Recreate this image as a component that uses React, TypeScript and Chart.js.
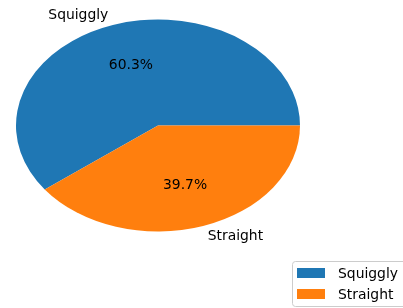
import React, { useEffect, useRef } from "react";
import { Chart, registerables } from "chart.js";

Chart.register(...registerables);

const categories = ["Squiggly", "Straight"];
const values = [60.3, 39.7];
const colors = ["#1f77b4", "#ff7f0e"];

const W = 403;
const H = 308;
const CX = 158;
const CY = 125.5;
const RY = 106;
const RX = 142;
const SX = RX / RY;
const FONT_PX = 13.9;
const FONT = `${FONT_PX}px "DejaVu Sans", sans-serif`;

export default function App() {
  const ref = useRef<HTMLCanvasElement | null>(null);

  useEffect(() => {
    document.body.style.margin = "0";
    const canvas = ref.current;
    if (!canvas) return;
    const total = values.reduce((a, b) => a + b, 0);
    const rotation = 90 + 360 * (1 - values[0] / total);

    const ellipsePlugin = {
      id: "ellipse",
      beforeDatasetsDraw(chart: any) {
        const ctx = chart.ctx;
        const meta = chart.getDatasetMeta(0);
        const el = meta.data[0];
        ctx.save();
        ctx.translate(el.x, el.y);
        ctx.scale(SX, 1);
        ctx.translate(-el.x, -el.y);
      },
      afterDatasetsDraw(chart: any) {
        chart.ctx.restore();
      },
      afterDraw(chart: any) {
        const ctx = chart.ctx;
        const meta = chart.getDatasetMeta(0);
        ctx.save();
        ctx.font = FONT;
        ctx.fillStyle = "#000";
        ctx.textBaseline = "alphabetic";
        const off = FONT_PX * 0.262;
        meta.data.forEach((el: any, i: number) => {
          const mid = (el.startAngle + el.endAngle) / 2;
          const r = el.outerRadius;
          const c = Math.cos(mid);
          const s = Math.sin(mid);
          // outer label
          const lx = el.x + 1.1 * r * SX * c;
          const ly = el.y + 1.1 * r * s;
          ctx.textAlign = c < 0 ? "right" : "left";
          ctx.fillText(categories[i], lx, ly + off);
          // percent
          const px = el.x + 0.6 * r * SX * c;
          const py = el.y + 0.6 * r * s;
          ctx.textAlign = "center";
          const pct = ((values[i] / total) * 100).toFixed(1) + "%";
          ctx.fillText(pct, px, py + off);
        });

        // legend
        const bx = 292.5, by = 261.5, bw = 116, bh = 45, rad = 3;
        ctx.beginPath();
        ctx.moveTo(bx + rad, by);
        ctx.lineTo(bx + bw - rad, by);
        ctx.arcTo(bx + bw, by, bx + bw, by + rad, rad);
        ctx.lineTo(bx + bw, by + bh - rad);
        ctx.arcTo(bx + bw, by + bh, bx + bw - rad, by + bh, rad);
        ctx.lineTo(bx + rad, by + bh);
        ctx.arcTo(bx, by + bh, bx, by + bh - rad, rad);
        ctx.lineTo(bx, by + rad);
        ctx.arcTo(bx, by, bx + rad, by, rad);
        ctx.closePath();
        ctx.fillStyle = "rgba(255,255,255,0.8)";
        ctx.fill();
        ctx.strokeStyle = "#cccccc";
        ctx.lineWidth = 1;
        ctx.stroke();

        ctx.textAlign = "left";
        categories.forEach((name, i) => {
          const y0 = 268 + i * 21;
          ctx.fillStyle = colors[i];
          ctx.fillRect(297, y0, 28, 10);
          ctx.fillStyle = "#000";
          ctx.fillText(name, 338, y0 + 10);
        });
        ctx.restore();
      },
    };

    const chart = new Chart(canvas, {
      type: "pie",
      data: {
        labels: categories,
        datasets: [
          {
            data: values,
            backgroundColor: colors,
            borderWidth: 0,
          },
        ],
      },
      options: {
        animation: false,
        responsive: false,
        maintainAspectRatio: false,
        rotation,
        layout: {
          padding: {
            left: CX - RY,
            right: W - (CX + RY),
            top: CY - RY,
            bottom: H - (CY + RY),
          },
        },
        plugins: {
          legend: { display: false },
          tooltip: { enabled: false },
        },
      },
      plugins: [ellipsePlugin],
    });
    return () => chart.destroy();
  }, []);

  return (
    <div style={{ width: W, height: H, background: "#fff" }}>
      <canvas ref={ref} width={W} height={H} style={{ display: "block", width: W, height: H }} />
    </div>
  );
}
